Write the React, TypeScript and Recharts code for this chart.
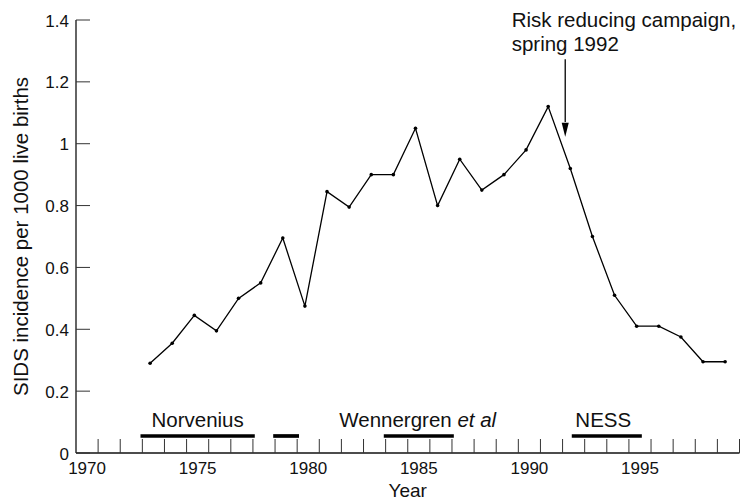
import React from "react";
import {
  LineChart,
  Line,
  XAxis,
  YAxis,
  ReferenceLine,
  ReferenceDot
} from "recharts";

const years = [
  1973, 1974, 1975, 1976, 1977, 1978, 1979, 1980, 1981, 1982, 1983, 1984,
  1985, 1986, 1987, 1988, 1989, 1990, 1991, 1992, 1993, 1994, 1995, 1996,
  1997, 1998, 1999
];

const incidence = [
  0.29, 0.355, 0.445, 0.395, 0.5, 0.55, 0.695, 0.475, 0.845, 0.795, 0.9, 0.9,
  1.05, 0.8, 0.95, 0.85, 0.9, 0.98, 1.12, 0.92, 0.7, 0.51, 0.41, 0.41, 0.375,
  0.295, 0.295
];

const yearLabels = [1970, 1975, 1980, 1985, 1990, 1995];
const yearBounds = Array.from({ length: 30 }, (_, i) => 1970.5 + i);
const yTicks = [0, 0.2, 0.4, 0.6, 0.8, 1, 1.2, 1.4];

// study periods (bars above the x axis)
const studyStart = [1972.5, 1978.5, 1983.5, 1992];
const studyEnd = [1977.5, 1979.5, 1986.5, 1995];
const studyLevel = 0.055;

const campaignYear = 1991.62;

const FONT = '"Liberation Sans", Arial, Helvetica, sans-serif';

const data = years.map((year, i) => ({ year, value: incidence[i] }));

const XTick = (props: any) => {
  const { x, y, payload } = props;
  const v = payload.value;
  if (v % 1 !== 0) {
    return <line x1={x} x2={x} y1={y} y2={y - 14} stroke="#333" strokeWidth={1} />;
  }
  return (
    <text x={x} y={y + 21} textAnchor="middle" fontSize={17} fill="#111">
      {v}
    </text>
  );
};

const YTick = (props: any) => {
  const { x, y, payload } = props;
  return (
    <g>
      <line x1={x} x2={x + 14} y1={y} y2={y} stroke="#333" strokeWidth={1} />
      <text x={x - 7} y={y + 6.5} textAnchor="end" fontSize={17} fill="#111">
        {String(payload.value)}
      </text>
    </g>
  );
};

const textShape = (label: React.ReactNode, dy: number) => (p: any) =>
  (
    <text
      x={p.cx}
      y={p.cy + dy}
      textAnchor="middle"
      fontSize={20.5}
      fill="#111"
    >
      {label}
    </text>
  );

export default function App() {
  return (
    <div style={{ position: "absolute", left: 0, top: 0, fontFamily: FONT }}>
      <LineChart
        width={741}
        height={501}
        data={data}
        margin={{ top: 20, right: 1.5, bottom: 0, left: 0 }}
      >
        <XAxis
          dataKey="year"
          type="number"
          domain={[1969.5, 1999.5]}
          ticks={[...yearBounds, ...yearLabels]}
          interval={0}
          tickSize={0}
          tickMargin={0}
          tick={<XTick />}
          axisLine={{ stroke: "#111", strokeWidth: 1.3 }}
          height={48}
          allowDataOverflow
          label={{
            value: "Year",
            position: "insideBottom",
            offset: 4,
            style: { fontSize: 19, fill: "#111" }
          }}
        />
        <XAxis
          xAxisId="pts"
          dataKey="year"
          type="number"
          domain={[1969.65, 1999.65]}
          hide
          allowDataOverflow
        />
        <YAxis
          type="number"
          domain={[0, 1.4]}
          ticks={yTicks}
          interval={0}
          tickSize={0}
          tickMargin={0}
          tick={<YTick />}
          width={76}
          axisLine={{ stroke: "#111", strokeWidth: 1.3 }}
          label={{
            value: "SIDS incidence per 1000 live births",
            angle: -90,
            position: "insideLeft",
            offset: 21,
            style: { fontSize: 20.5, fill: "#111", textAnchor: "middle" }
          }}
        />

        {studyStart.map((s, i) => (
          <ReferenceLine
            key={"study" + i}
            segment={[
              { x: s, y: studyLevel },
              { x: studyEnd[i], y: studyLevel }
            ]}
            stroke="#000"
            strokeWidth={3.7}
            strokeLinecap="square"
          />
        ))}

        <ReferenceDot x={1975} y={studyLevel} r={0} shape={textShape("Norvenius", -9)} />
        <ReferenceDot
          x={1984.95}
          y={studyLevel}
          r={0}
          shape={textShape(
            <>
              Wennergren <tspan fontStyle="italic">et al</tspan>
            </>,
            -9
          )}
        />
        <ReferenceDot x={1993.34} y={studyLevel} r={0} shape={textShape("NESS", -9)} />

        <ReferenceLine
          segment={[
            { x: campaignYear, y: 1.273 },
            { x: campaignYear, y: 1.07 }
          ]}
          stroke="#000"
          strokeWidth={1.3}
        />
        <ReferenceDot
          x={campaignYear}
          y={1.0227}
          r={0}
          shape={(p: any) => (
            <polygon
              points={`${p.cx},${p.cy} ${p.cx - 3.5},${p.cy - 14} ${p.cx + 3.5},${p.cy - 14}`}
              fill="#000"
            />
          )}
        />
        <ReferenceDot
          x={1989.2}
          y={1.4}
          r={0}
          shape={(p: any) => (
            <text x={p.cx} y={p.cy} fontSize={20.5} fill="#111">
              <tspan x={p.cx} dy={7.3}>Risk reducing campaign,</tspan>
              <tspan x={p.cx} dy={23.7}>spring 1992</tspan>
            </text>
          )}
        />

        <Line
          xAxisId="pts"
          type="linear"
          dataKey="value"
          stroke="#000"
          strokeWidth={1.3}
          dot={{ r: 1.8, fill: "#000", stroke: "none" }}
          activeDot={false}
          isAnimationActive={false}
        />
      </LineChart>
    </div>
  );
}
